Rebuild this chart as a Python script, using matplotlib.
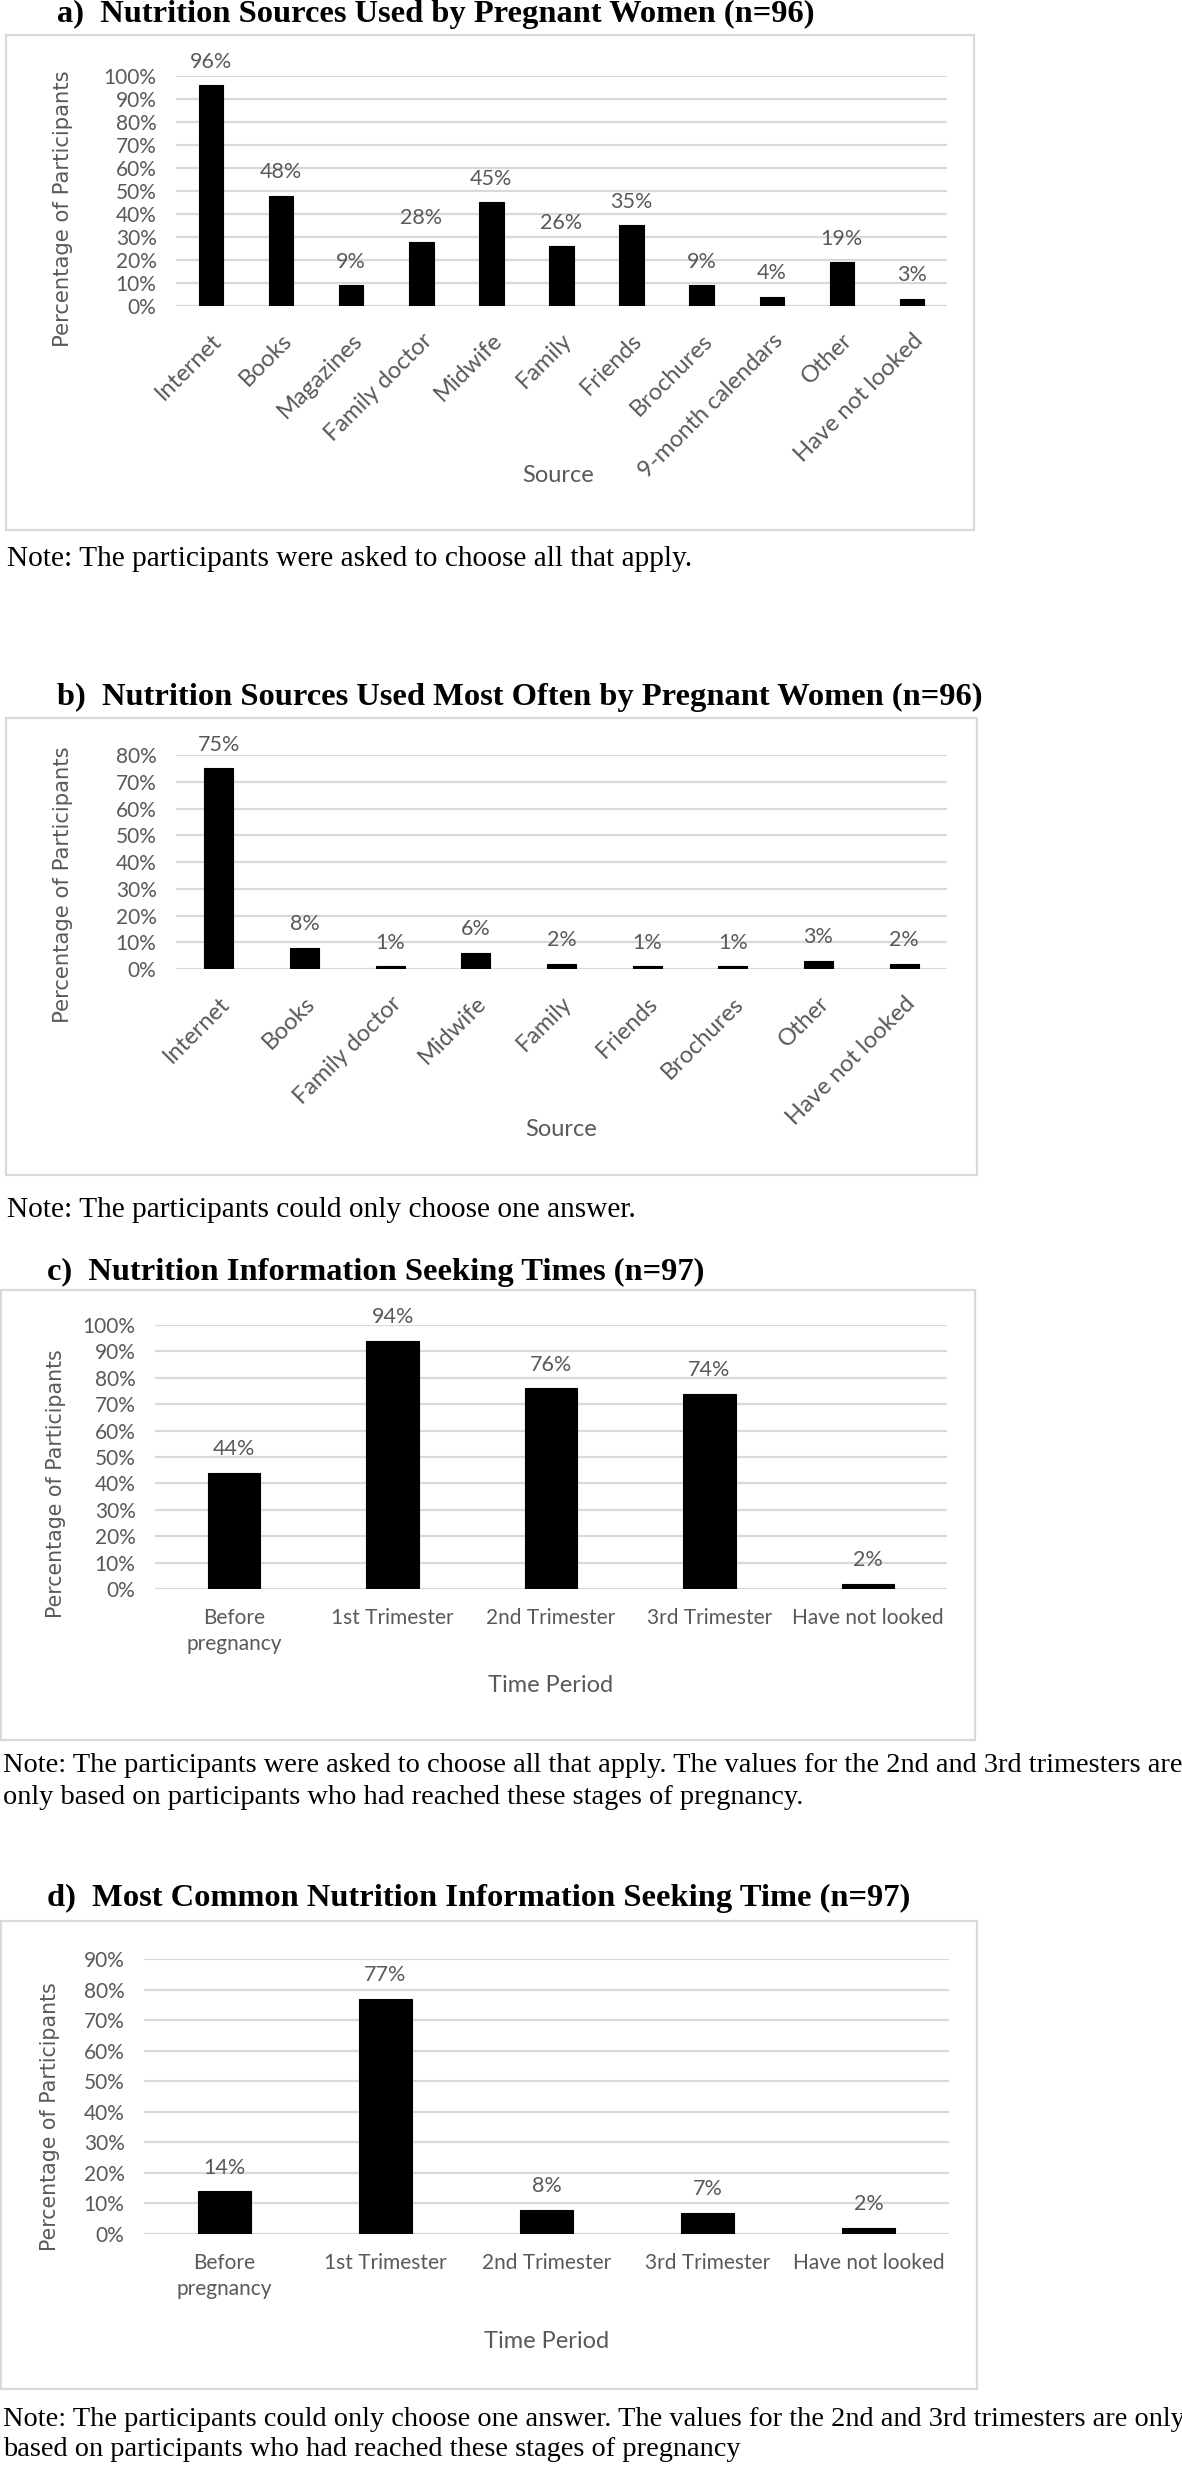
import matplotlib
matplotlib.use("Agg")
import matplotlib.pyplot as plt
from matplotlib.patches import Rectangle
from matplotlib.ticker import FuncFormatter, MultipleLocator

# ---------------- data ----------------
a_sources = ["Internet", "Books", "Magazines", "Family doctor", "Midwife", "Family",
             "Friends", "Brochures", "9-month calendars", "Other", "Have not looked"]
a_values = [96, 48, 9, 28, 45, 26, 35, 9, 4, 19, 3]

b_sources = ["Internet", "Books", "Family doctor", "Midwife", "Family", "Friends",
             "Brochures", "Other", "Have not looked"]
b_values = [75, 8, 1, 6, 2, 1, 1, 3, 2]

periods = ["Before\npregnancy", "1st Trimester", "2nd Trimester", "3rd Trimester", "Have not looked"]
c_values = [44, 94, 76, 74, 2]
d_values = [14, 77, 8, 7, 2]

titles = ["a)  Nutrition Sources Used by Pregnant Women (n=96)",
          "b)  Nutrition Sources Used Most Often by Pregnant Women (n=96)",
          "c)  Nutrition Information Seeking Times (n=97)",
          "d)  Most Common Nutrition Information Seeking Time (n=97)"]
notes = [["Note: The participants were asked to choose all that apply."],
         ["Note: The participants could only choose one answer."],
         ["Note: The participants were asked to choose all that apply. The values for the 2nd and 3rd trimesters are",
          "only based on participants who had reached these stages of pregnancy."],
         ["Note: The participants could only choose one answer. The values for the 2nd and 3rd trimesters are only",
          "based on participants who had reached these stages of pregnancy"]]

# ---------------- layout (pixels) ----------------
W, H = 1182, 2468
fig = plt.figure(figsize=(W / 100, H / 100), dpi=100)
fig.patch.set_facecolor("white")

GREY = "#595959"
GRID = "#d9d9d9"
TICKFONT = ["Lato", "DejaVu Sans"]
SERIF = ["Liberation Serif", "DejaVu Serif"]
YFS = 15
LFS = 15.5


def add_ax(x0, x1, ytop, ybot):
    return fig.add_axes([x0 / W, 1 - ybot / H, (x1 - x0) / W, (ybot - ytop) / H])


def box(x0, y0, x1, y1):
    fig.patches.append(Rectangle((x0 / W, 1 - y1 / H), (x1 - x0) / W, (y1 - y0) / H,
                                 transform=fig.transFigure, fill=False,
                                 edgecolor=GRID, linewidth=1.6, zorder=0))


def ftext(x, y, s, **kw):
    fig.text(x / W, 1 - y / H, s, **kw)


def panel(ax, cats, vals, ymax, width, rotate):
    xs = list(range(len(cats)))
    fr = [v / 100 for v in vals]
    ax.bar(xs, fr, width=width, color="black", edgecolor="black", linewidth=0.8, zorder=3)
    ax.set_xlim(-0.5, len(cats) - 0.5)
    ax.set_ylim(0, ymax)
    ax.yaxis.set_major_locator(MultipleLocator(0.1))
    ax.yaxis.set_major_formatter(FuncFormatter(lambda v, p: f"{v * 100:.0f}%"))
    ax.grid(axis="y", color=GRID, linewidth=1.6, zorder=0)
    ax.set_axisbelow(True)
    for s in ax.spines.values():
        s.set_visible(False)
    ax.tick_params(axis="both", length=0, colors=GREY)
    ax.tick_params(axis="y", pad=14)
    for lab in ax.get_yticklabels():
        lab.set_fontfamily(TICKFONT)
        lab.set_fontsize(YFS)
        lab.set_color(GREY)
    ax.set_xticks(xs)
    if rotate:
        ax.set_xticklabels(cats, rotation=45, ha="right", va="top", rotation_mode="anchor",
                           fontsize=17, color=GREY, family=TICKFONT)
        ax.tick_params(axis="x", pad=17)
    else:
        ax.set_xticklabels(cats, fontsize=15, color=GREY, family=TICKFONT,
                           linespacing=1.35, ha="center", va="top")
        ax.tick_params(axis="x", pad=14)
    for x, v, f in zip(xs, vals, fr):
        ax.annotate(f"{v}%", (x, f), xytext=(0, 17), textcoords="offset points",
                    ha="center", va="center", fontsize=LFS, color=GREY,
                    family=TICKFONT, clip_on=False, annotation_clip=False)
    ax.set_facecolor("none")


# ---- panel a ----
ftext(57, 14, titles[0], fontsize=23.4, fontweight="bold", family=SERIF, va="center", ha="left")
box(6, 35, 974, 530)
ax = add_ax(176, 947, 76, 306)
panel(ax, a_sources, a_values, 1.0, 0.35, True)
ftext(63, 209, "Percentage of Participants", rotation=90, fontsize=15.2, color=GREY,
      family=["DejaVu Sans"], ha="center", va="center")
ftext(558, 476, "Source", fontsize=17, color=GREY, family=TICKFONT, ha="center", va="center")
ftext(7, 559, notes[0][0], fontsize=21.2, family=SERIF, ha="left", va="center")

# ---- panel b ----
ftext(57, 697, titles[1], fontsize=23.4, fontweight="bold", family=SERIF, va="center", ha="left")
box(6, 718, 977, 1175)
ax = add_ax(176, 947, 755, 969)
panel(ax, b_sources, b_values, 0.8, 0.34, True)
ftext(63, 885, "Percentage of Participants", rotation=90, fontsize=15.2, color=GREY,
      family=["DejaVu Sans"], ha="center", va="center")
ftext(561, 1129, "Source", fontsize=17, color=GREY, family=TICKFONT, ha="center", va="center")
ftext(7, 1210, notes[1][0], fontsize=21.2, family=SERIF, ha="left", va="center")

# ---- panel c ----
ftext(47, 1272, titles[2], fontsize=23.4, fontweight="bold", family=SERIF, va="center", ha="left")
box(1, 1290, 975, 1740)
ax = add_ax(155, 947, 1325, 1589)
panel(ax, periods, c_values, 1.0, 0.33, False)
ftext(56, 1484, "Percentage of Participants", rotation=90, fontsize=14.8, color=GREY,
      family=["DejaVu Sans"], ha="center", va="center")
ftext(551, 1686, "Time Period", fontsize=17, color=GREY, family=TICKFONT, ha="center", va="center")
ftext(3, 1765, notes[2][0], fontsize=20.4, family=SERIF, ha="left", va="center")
ftext(3, 1797, notes[2][1], fontsize=20.4, family=SERIF, ha="left", va="center")

# ---- panel d ----
ftext(47, 1898, titles[3], fontsize=23.4, fontweight="bold", family=SERIF, va="center", ha="left")
box(1, 1921, 977, 2389)
ax = add_ax(144, 949, 1959, 2234)
panel(ax, periods, d_values, 0.9, 0.33, False)
ftext(50, 2117, "Percentage of Participants", rotation=90, fontsize=14.8, color=GREY,
      family=["DejaVu Sans"], ha="center", va="center")
ftext(547, 2341, "Time Period", fontsize=17, color=GREY, family=TICKFONT, ha="center", va="center")
ftext(3, 2419, notes[3][0], fontsize=20.4, family=SERIF, ha="left", va="center")
ftext(3, 2449, notes[3][1], fontsize=20.4, family=SERIF, ha="left", va="center")

fig.savefig("out.png", dpi=100, facecolor="white")
